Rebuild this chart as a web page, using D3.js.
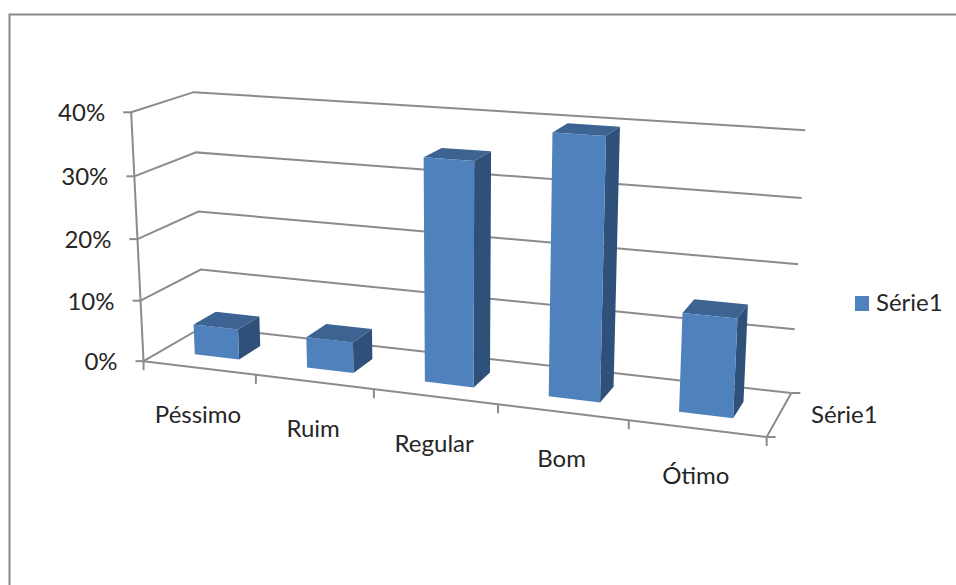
<!DOCTYPE html>
<html>
<head>
<meta charset="utf-8">
<script src="https://cdn.jsdelivr.net/npm/d3@7/dist/d3.min.js"></script>
<style>
html,body{margin:0;padding:0;background:#fff;}
svg{display:block;}
text{font-family:Lato,"Open Sans",sans-serif;fill:#262626;font-size:24px;}
</style>
</head>
<body>
<svg id="chart" width="956" height="585"></svg>
<script>
// Chart data
const categories = ["Péssimo", "Ruim", "Regular", "Bom", "Ótimo"];
const seriesName = "Série1";
const values = [0.05, 0.05, 0.35, 0.40, 0.15];
const valueTicks = [0, 0.1, 0.2, 0.3, 0.4];

// Perspective camera: control points tie scene coordinates (across, depth, height) to the page
const controlScene = [
  [0,0,0],[0,0,1],[1,0,0],[2,0,0],[3,0,0],[4,0,0],[5,0,0],
  [0,1,0],[0,1,0.25],[0,1,0.5],[0,1,0.75],[0,1,1],
  [5,1,0],[5,1,0.25],[5,1,0.5],[5,1,0.75],[5,1,1]
];
const controlPage = [
  [144,361],[132,112],[255,375],[373,390],[498,405],[629,420],[767,436],
  [204,327],[201,269],[198,212],[196,152],[193,92],
  [791,393],[795,329],[798,264],[802,198],[805,131]
];

// Least-squares fit of the 3x4 projection matrix (last entry fixed at 1)
function fitCamera(scene, page) {
  const n = 11, A = Array.from({length:n}, () => new Array(n + 1).fill(0));
  const addRow = (row, rhs) => {
    for (let i = 0; i < n; i++) {
      for (let j = 0; j < n; j++) A[i][j] += row[i] * row[j];
      A[i][n] += row[i] * rhs;
    }
  };
  scene.forEach(([a,b,c], k) => {
    const [px,py] = page[k];
    addRow([a,b,c,1,0,0,0,0,-px*a,-px*b,-px*c], px);
    addRow([0,0,0,0,a,b,c,1,-py*a,-py*b,-py*c], py);
  });
  for (let i = 0; i < n; i++) {
    let p = i;
    for (let r = i + 1; r < n; r++) if (Math.abs(A[r][i]) > Math.abs(A[p][i])) p = r;
    [A[i], A[p]] = [A[p], A[i]];
    for (let r = 0; r < n; r++) {
      if (r === i) continue;
      const f = A[r][i] / A[i][i];
      for (let c = i; c <= n; c++) A[r][c] -= f * A[i][c];
    }
  }
  return A.map((r, i) => r[n] / r[i]);
}
const M = fitCamera(controlScene, controlPage);
const project = (a, b, c) => {
  const w = M[8]*a + M[9]*b + M[10]*c + 1;
  return [(M[0]*a + M[1]*b + M[2]*c + M[3]) / w, (M[4]*a + M[5]*b + M[6]*c + M[7]) / w];
};

// Scales in scene space
const across = d3.scaleBand().domain(categories).range([0, 5]).paddingInner(0.6).paddingOuter(0.3);
const height = d3.scaleLinear().domain([0, 0.4]).range([0, 1]);
const barDepth = [0.3, 0.68];
const line = d3.line();
const closed = d3.line().curve(d3.curveLinearClosed);
const pct = d3.format(".0%");

const gridColor = "#8b8b8b";
const svg = d3.select("#chart");

// Outer frame, open past the right and bottom page edges
svg.append("path").attr("d", line([[9.5,590],[9.5,14.5],[960,14.5]]))
  .attr("fill","none").attr("stroke","#888").attr("stroke-width",2);

const grid = svg.append("g").attr("fill","none").attr("stroke",gridColor).attr("stroke-width",2);

// Gridlines run along the side wall, then across the back wall
grid.selectAll(".gridline").data(valueTicks).join("path").attr("class","gridline")
  .attr("d", v => line([project(0,0,height(v)), project(0,1,height(v)), project(5,1,height(v))]));

// Value axis with its tick marks
grid.append("path").attr("d", line([project(0,0,height(0)), project(0,0,height(0.4))]));
grid.selectAll(".ytick").data(valueTicks).join("path").attr("class","ytick")
  .attr("d", v => { const p = project(0,0,height(v)); return line([[p[0]-8,p[1]], p]); });

// Floor front edge, right edge and category ticks
grid.append("path").attr("d", line([project(0,0,0), project(5,0,0), project(5,1,0)]));
grid.selectAll(".xtick").data(d3.range(0,6)).join("path").attr("class","xtick")
  .attr("d", u => { const p = project(u,0,0); return line([p, [p[0],p[1]+9]]); });
{
  const p = project(5,0,0);
  grid.append("path").attr("d", line([p, [p[0]+9,p[1]]]));
  const q = project(5,1,0);
  grid.append("path").attr("d", line([q, [q[0]+9,q[1]]]));
}

// Value labels
svg.selectAll(".ylabel").data(valueTicks).join("text").attr("class","ylabel")
  .attr("text-anchor","end")
  .attr("x", v => project(0,0,height(v))[0] - 26)
  .attr("y", v => project(0,0,height(v))[1] + 9)
  .text(pct);

// Category labels
svg.selectAll(".xlabel").data(categories).join("text").attr("class","xlabel")
  .attr("text-anchor","middle")
  .attr("x", (c,i) => project(i+0.5,0,0)[0] - 1)
  .attr("y", (c,i) => project(i+0.5,0,0)[1] + 55)
  .text(c => c);

// Depth axis label
svg.append("text").attr("x",811).attr("y",423).text(seriesName);

// 3D bars, each built from front, top and side faces
const bars = svg.selectAll(".bar").data(categories).join("g").attr("class","bar");
bars.each(function(c, i) {
  const g = d3.select(this);
  const u0 = across(c), u1 = u0 + across.bandwidth();
  const [d0, d1] = barDepth;
  const h = height(values[i]);
  g.append("path").attr("fill","#2f5079")
    .attr("d", closed([project(u1,d0,0),project(u1,d1,0),project(u1,d1,h),project(u1,d0,h)]));
  g.append("path").attr("fill","#3c6391")
    .attr("d", closed([project(u0,d0,h),project(u1,d0,h),project(u1,d1,h),project(u0,d1,h)]));
  g.append("path").attr("fill","#4f81bd")
    .attr("d", closed([project(u0,d0,0),project(u1,d0,0),project(u1,d0,h),project(u0,d0,h)]));
});

// Legend
const legendColor = "#4f81bd";
svg.append("rect").attr("x",855).attr("y",296).attr("width",14).attr("height",15).attr("fill",legendColor);
svg.append("text").attr("x",876).attr("y",311).text(seriesName);
</script>
</body>
</html>
